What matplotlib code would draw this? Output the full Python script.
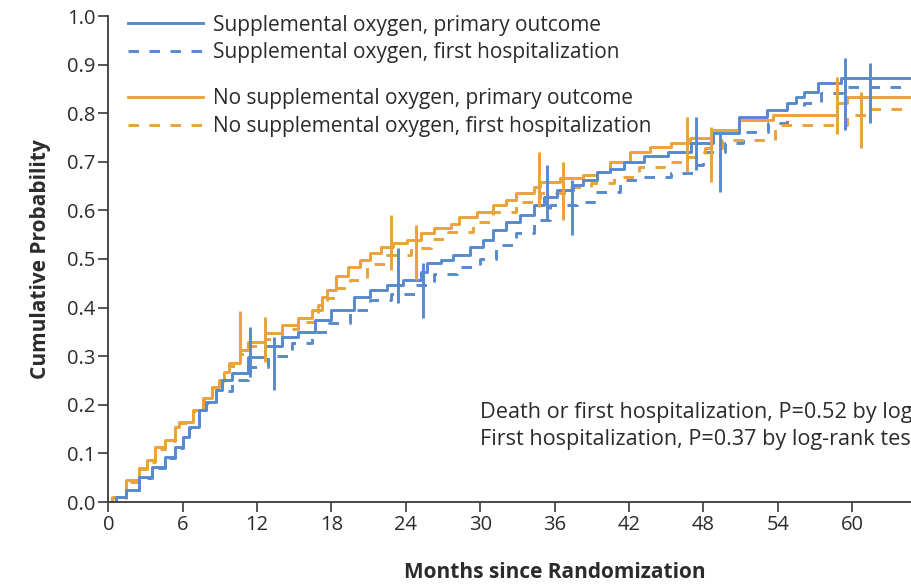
import matplotlib
matplotlib.use("Agg")
import matplotlib.pyplot as plt
from matplotlib.lines import Line2D

# -----------------------------
# Data
# -----------------------------
sup_primary_t = [0, 0.6, 1.4, 2.5, 3.5, 4.6, 5.4, 6.0, 6.5, 7.3, 7.9, 8.7, 9.2, 10.0, 11.3, 12.6, 14.0, 15.3,
                 16.7, 18.0, 19.8, 21.1, 22.5, 23.8, 25.2, 25.7, 26.8, 27.8, 29.2, 30.2, 31.0, 32.1, 33.2, 34.3,
                 35.1, 36.2, 37.5, 38.3, 39.4, 40.5, 41.6, 43.2, 45.1, 47.0, 48.8, 50.9, 53.1, 54.7, 55.5, 56.1,
                 57.2, 59.1, 66]
sup_primary_y = [0, 0.011, 0.024, 0.052, 0.073, 0.093, 0.114, 0.134, 0.155, 0.19, 0.206, 0.23, 0.251, 0.265,
                 0.299, 0.32, 0.34, 0.35, 0.374, 0.395, 0.422, 0.436, 0.446, 0.457, 0.474, 0.491, 0.498, 0.508,
                 0.525, 0.539, 0.56, 0.577, 0.591, 0.611, 0.628, 0.642, 0.652, 0.663, 0.68, 0.686, 0.70, 0.711,
                 0.721, 0.738, 0.759, 0.793, 0.806, 0.82, 0.834, 0.844, 0.863, 0.872, 0.872]

sup_hosp_t = [0, 0.6, 1.4, 2.5, 3.5, 4.6, 5.4, 6.0, 6.5, 7.3, 7.9, 8.7, 10.0, 11.3, 12.9, 14.8, 16.4, 17.8,
              19.5, 21.1, 22.8, 24.7, 26.3, 28.1, 30.0, 31.3, 32.9, 34.3, 35.6, 37.8, 39.2, 41.3, 43.2, 45.4,
              47.2, 48.0, 49.7, 51.2, 53.2, 54.7, 56.1, 57.5, 59.2, 66]
sup_hosp_y = [0, 0.011, 0.024, 0.050, 0.070, 0.090, 0.112, 0.132, 0.152, 0.187, 0.204, 0.228, 0.251, 0.278,
              0.30, 0.327, 0.35, 0.368, 0.395, 0.416, 0.429, 0.446, 0.47, 0.484, 0.501, 0.529, 0.553, 0.58,
              0.611, 0.618, 0.638, 0.663, 0.669, 0.676, 0.693, 0.72, 0.738, 0.762, 0.78, 0.796, 0.82, 0.841,
              0.853, 0.853]

nosup_primary_t = [0, 0.3, 1.4, 2.5, 3.1, 3.8, 4.6, 5.4, 5.7, 6.8, 7.6, 8.4, 8.9, 9.3, 9.7, 10.6, 11.3, 12.6,
                   14.0, 15.3, 16.4, 17.2, 17.6, 18.4, 19.3, 20.3, 21.1, 22.0, 23.0, 24.1, 25.2, 26.3, 27.6,
                   28.3, 29.7, 31.0, 32.1, 32.9, 34.3, 34.8, 36.4, 38.3, 39.4, 40.5, 42.1, 43.7, 45.4, 46.9,
                   48.8, 50.9, 53.6, 58.8, 59.6, 66]
nosup_primary_y = [0, 0.01, 0.045, 0.07, 0.086, 0.114, 0.128, 0.155, 0.165, 0.19, 0.213, 0.237, 0.251, 0.268,
                   0.285, 0.313, 0.33, 0.347, 0.364, 0.378, 0.395, 0.422, 0.436, 0.464, 0.484, 0.498, 0.512,
                   0.525, 0.532, 0.539, 0.553, 0.563, 0.573, 0.587, 0.597, 0.611, 0.621, 0.635, 0.649, 0.659,
                   0.666, 0.673, 0.68, 0.70, 0.721, 0.731, 0.738, 0.748, 0.765, 0.786, 0.796, 0.82, 0.833, 0.833]

nosup_hosp_t = [0, 0.3, 1.4, 2.5, 3.1, 3.8, 4.6, 5.4, 5.7, 6.8, 7.6, 8.4, 8.9, 9.3, 9.7, 10.6, 11.3, 12.6,
                14.0, 15.3, 16.9, 17.6, 18.4, 19.5, 20.9, 22.5, 24.4, 26.0, 27.4, 29.4, 31.0, 32.9, 34.8,
                37.0, 38.9, 40.8, 42.8, 44.8, 46.3, 48.1, 49.5, 53.8, 59.6, 61.2, 66]
nosup_hosp_y = [0, 0.008, 0.042, 0.067, 0.083, 0.11, 0.125, 0.152, 0.162, 0.187, 0.21, 0.234, 0.248, 0.265,
                0.28, 0.305, 0.32, 0.335, 0.355, 0.37, 0.405, 0.42, 0.44, 0.457, 0.49, 0.508, 0.522, 0.542,
                0.556, 0.577, 0.597, 0.618, 0.635, 0.649, 0.656, 0.669, 0.69, 0.70, 0.71, 0.728, 0.745, 0.776,
                0.796, 0.809, 0.809]

# 95% CI bars
sup_ci_t = [11.4, 13.4, 23.4, 25.4, 35.4, 37.4, 47.4, 49.3, 59.4, 61.4]
sup_ci_lo = [0.258, 0.23, 0.409, 0.378, 0.58, 0.549, 0.683, 0.638, 0.765, 0.779]
sup_ci_hi = [0.361, 0.34, 0.522, 0.491, 0.693, 0.663, 0.793, 0.762, 0.913, 0.903]

nosup_ci_t = [10.6, 12.6, 22.8, 24.8, 34.7, 36.7, 46.7, 48.6, 58.8, 60.7]
nosup_ci_lo = [0.292, 0.289, 0.477, 0.457, 0.608, 0.58, 0.68, 0.659, 0.758, 0.728]
nosup_ci_hi = [0.392, 0.381, 0.59, 0.57, 0.721, 0.70, 0.793, 0.772, 0.875, 0.844]

x_ticks = list(range(0, 73, 6))
y_ticks = [i / 10 for i in range(11)]

stats_lines = ["Death or first hospitalization, P=0.52 by log-rank test",
               "First hospitalization, P=0.37 by log-rank test"]

# -----------------------------
# Style
# -----------------------------
BLUE = "#5689ce"
ORANGE = "#eaa23a"
AX_COLOR = "#3a3a3a"
TXT = "#2b2b2b"
LW = 2.1
DASH = (3.6, 3.6)
FS = 14.5

plt.rcParams["font.family"] = ["Open Sans", "DejaVu Sans"]
plt.rcParams["font.size"] = FS

fig = plt.figure(figsize=(9.12, 5.84), dpi=100)
# axes runs past the right edge of the figure (as in the cropped original)
ax = fig.add_axes([108.3 / 912, 1 - 502 / 584, 892.8 / 912, 486 / 584])

# -----------------------------
# Curves
# -----------------------------
ax.step(sup_hosp_t, sup_hosp_y, where="post", color=BLUE, lw=LW, dashes=DASH)
ax.step(nosup_hosp_t, nosup_hosp_y, where="post", color=ORANGE, lw=LW, dashes=DASH)
ax.step(nosup_primary_t, nosup_primary_y, where="post", color=ORANGE, lw=LW)
ax.step(sup_primary_t, sup_primary_y, where="post", color=BLUE, lw=LW)

ax.vlines(nosup_ci_t, nosup_ci_lo, nosup_ci_hi, color=ORANGE, lw=LW)
ax.vlines(sup_ci_t, sup_ci_lo, sup_ci_hi, color=BLUE, lw=LW)

# -----------------------------
# Axes
# -----------------------------
ax.set_xlim(0, 72)
ax.set_ylim(0, 1.0)
ax.set_xticks(x_ticks)
ax.set_yticks(y_ticks)
ax.set_yticklabels([f"{v:.1f}" for v in y_ticks])
for s in ["top", "right"]:
    ax.spines[s].set_visible(False)
for s in ["left", "bottom"]:
    ax.spines[s].set_color(AX_COLOR)
    ax.spines[s].set_linewidth(1.3)
ax.tick_params(axis="both", direction="out", length=7, width=1.2, color=AX_COLOR,
               labelcolor=TXT, labelsize=FS, pad=2)

ax.set_xlabel("Months since Randomization", fontsize=15, fontweight="bold", color=TXT, labelpad=20)
ax.set_ylabel("Cumulative Probability", fontsize=15, fontweight="bold", color=TXT, labelpad=12)

# -----------------------------
# Legend (two groups)
# -----------------------------
h1 = [Line2D([], [], color=BLUE, lw=LW),
      Line2D([], [], color=BLUE, lw=LW, dashes=DASH)]
l1 = ["Supplemental oxygen, primary outcome", "Supplemental oxygen, first hospitalization"]
h2 = [Line2D([], [], color=ORANGE, lw=LW),
      Line2D([], [], color=ORANGE, lw=LW, dashes=DASH)]
l2 = ["No supplemental oxygen, primary outcome", "No supplemental oxygen, first hospitalization"]

leg_kw = dict(loc="upper left", frameon=False, borderpad=0, borderaxespad=0,
              handlelength=3.6, handletextpad=0.48, labelspacing=0.33, fontsize=15,
              labelcolor=TXT)
leg1 = ax.legend(h1, l1, bbox_to_anchor=(0.022, 1.003), **leg_kw)
ax.add_artist(leg1)
ax.legend(h2, l2, bbox_to_anchor=(0.022, 0.851), **leg_kw)

# -----------------------------
# Log-rank text
# -----------------------------
ax.text(30.0, 0.185, stats_lines[0], fontsize=15.6, color=TXT, va="center", ha="left")
ax.text(30.0, 0.128, stats_lines[1], fontsize=15.6, color=TXT, va="center", ha="left")

fig.savefig("out.png", dpi=100)
